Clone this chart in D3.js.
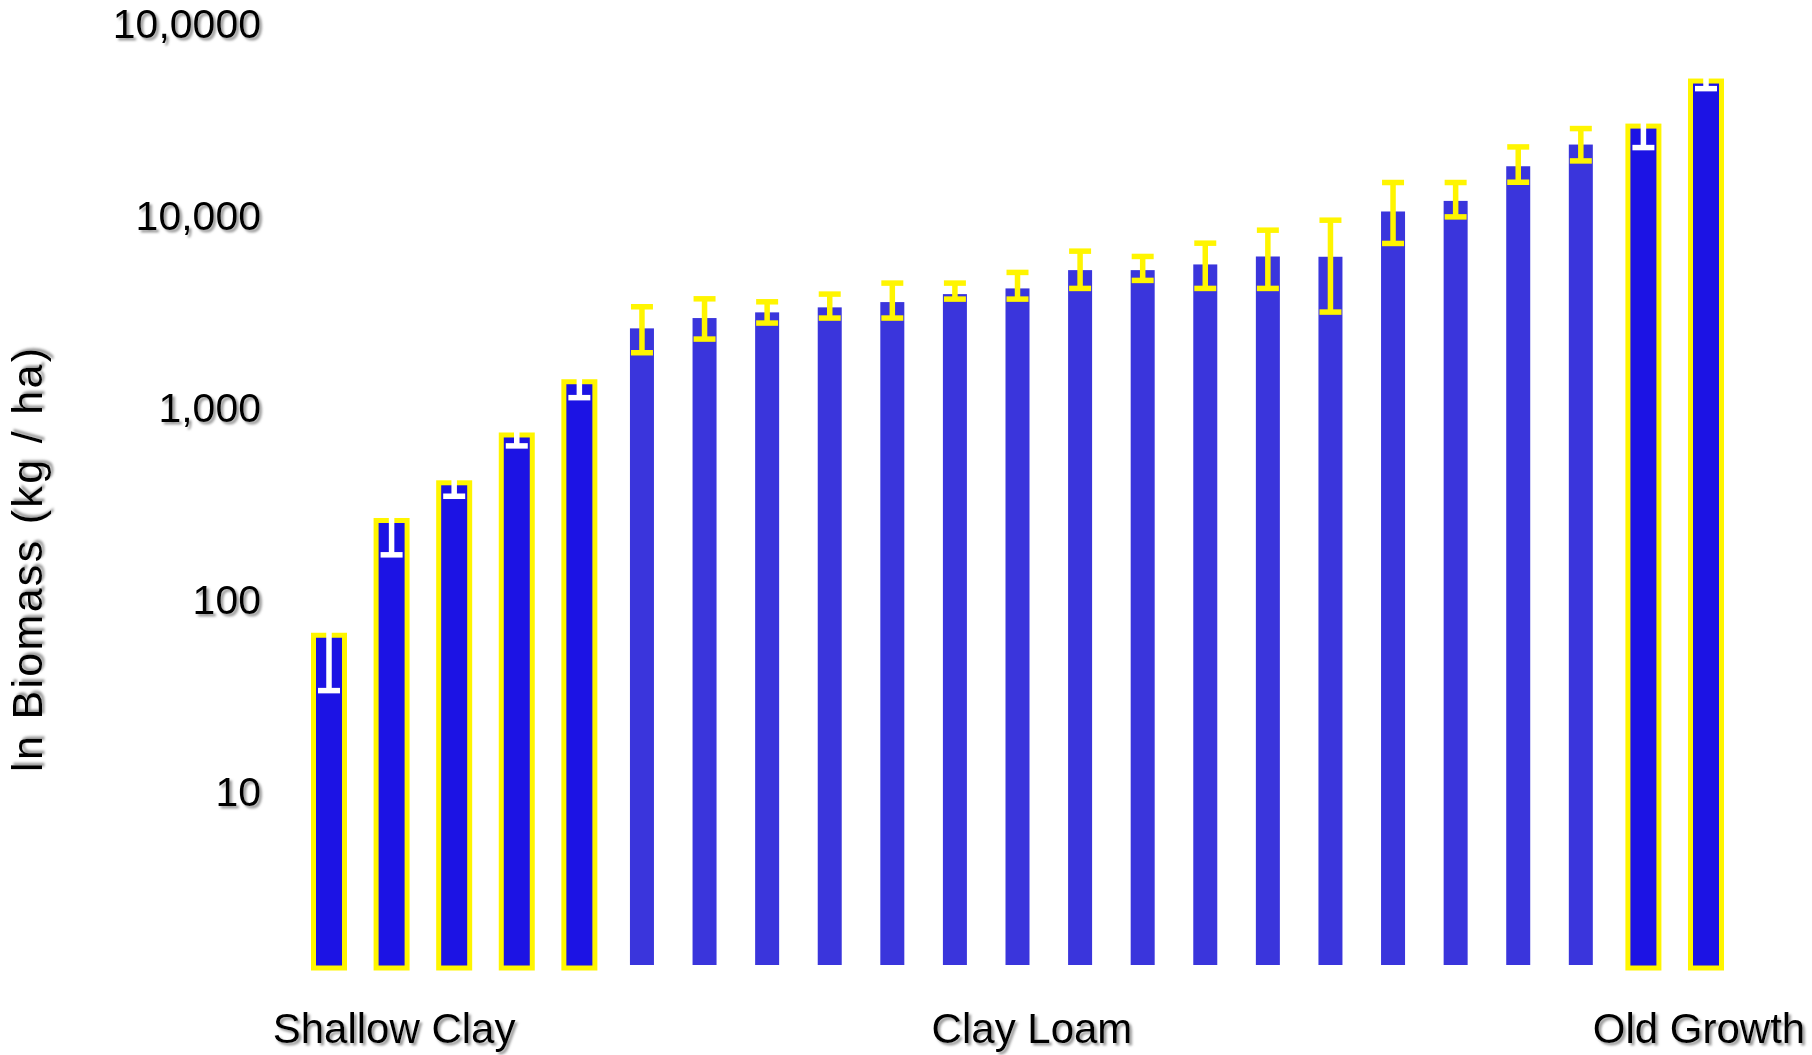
<!DOCTYPE html>
<html>
<head>
<meta charset="utf-8">
<script src="https://cdn.jsdelivr.net/npm/d3@7"></script>
<style>
  html, body { margin: 0; padding: 0; background: #ffffff; }
  svg { display: block; }
</style>
</head>
<body>
<svg id="chart" width="1812" height="1055"></svg>
<script>
// ---------------- DATA ----------------
const sites = ["1","2","3","4","5","6","7","8","9","10","11","12",
               "13","14","15","16","17","18","19","20","21","22","23"];
const soilGroup = ["Shallow Clay","Shallow Clay","Shallow Clay","Shallow Clay","Shallow Clay",
  "Clay Loam","Clay Loam","Clay Loam","Clay Loam","Clay Loam","Clay Loam","Clay Loam","Clay Loam",
  "Clay Loam","Clay Loam","Clay Loam","Clay Loam","Clay Loam","Clay Loam","Clay Loam","Clay Loam",
  "Old Growth","Old Growth"];
const biomass = [66, 261, 410, 727, 1376,
  2608, 2951, 3159, 3354, 3573, 3932, 4209, 5240, 5240, 5610, 6170, 6150,
  10580, 12010, 18190, 23590,
  29430, 50490];
const errLow = [34, 173, 349, 638, 1137,
  1948, 2294, 2779, 2951, 2951, 3703, 3703, 4209, 4633, 4209, 4209, 3170,
  7213, 9918, 15020, 19390,
  22750, 46100];
const errHigh = [98, 349, 471, 816, 1615,
  3378, 3716, 3586, 3932, 4486, 4486, 5098, 6578, 6173, 7238, 8458, 9533,
  14970, 14970, 22930, 28570,
  36110, 54880];
const highlighted = [true, true, true, true, true,
  false, false, false, false, false, false, false, false, false, false, false, false,
  false, false, false, false,
  true, true];
const tickValues = [10, 100, 1000, 10000, 100000];
const tickLabels = ["10", "100", "1,000", "10,000", "10,0000"];
const groupLabels = ["Shallow Clay", "Clay Loam", "Old Growth"];
const yTitle = "ln Biomass (kg / ha)";
const axisFloor = 1.27;

// ---------------- LAYOUT ----------------
const W = 1812, H = 1055;
const FONT = "'Liberation Sans', Arial, Helvetica, sans-serif";
const plainW = 24, hlW = 31, hlStroke = 5, capW = 22, errStroke = 5.5;
const blue = "#3a35dc", blueDark = "#1c13e4", yellow = "#fff500";
// group label anchor: [site index, pixel offset]
const groupAnchor = [[1, 2.5], [11, 14.5], [22, -7]];

const svg = d3.select("#chart");
svg.append("rect").attr("width", W).attr("height", H).attr("fill", "#ffffff");

const defs = svg.append("defs");
const filt = defs.append("filter").attr("id", "shadow")
  .attr("x", "-10%").attr("y", "-30%").attr("width", "125%").attr("height", "170%");
filt.append("feDropShadow").attr("dx", 2.5).attr("dy", 2.5).attr("stdDeviation", 0.9)
  .attr("flood-color", "#7a7a7a").attr("flood-opacity", 0.75);

const x = d3.scalePoint().domain(sites).range([329, 1706]);
const y = d3.scaleLog().domain([axisFloor, 100000]).range([965, 24]);
const base = y(axisFloor);

// bars
svg.append("g").selectAll("rect").data(sites).join("rect")
  .attr("x", (d, i) => x(d) - (highlighted[i] ? hlW : plainW) / 2)
  .attr("y", (d, i) => y(biomass[i]))
  .attr("width", (d, i) => highlighted[i] ? hlW : plainW)
  .attr("height", (d, i) => base - y(biomass[i]) + (highlighted[i] ? 3 : 0))
  .attr("fill", (d, i) => highlighted[i] ? blueDark : blue)
  .attr("stroke", (d, i) => highlighted[i] ? yellow : "none")
  .attr("stroke-width", hlStroke);

// error bars
const eg = svg.append("g").selectAll("g").data(sites).join("g")
  .attr("stroke", (d, i) => highlighted[i] ? "#ffffff" : yellow)
  .attr("stroke-width", errStroke)
  .attr("fill", "none");
eg.append("line")
  .attr("x1", d => x(d)).attr("x2", d => x(d))
  .attr("y1", (d, i) => y(errLow[i])).attr("y2", (d, i) => y(errHigh[i]));
eg.append("line")
  .attr("x1", d => x(d) - capW / 2).attr("x2", d => x(d) + capW / 2)
  .attr("y1", (d, i) => y(errLow[i])).attr("y2", (d, i) => y(errLow[i]));
eg.append("line")
  .attr("x1", d => x(d) - capW / 2).attr("x2", d => x(d) + capW / 2)
  .attr("y1", (d, i) => y(errHigh[i])).attr("y2", (d, i) => y(errHigh[i]));

// y axis (labels only)
const yAxis = d3.axisLeft(y).tickValues(tickValues)
  .tickFormat((d, i) => tickLabels[i]).tickSize(0).tickPadding(9);
const ag = svg.append("g").attr("transform", "translate(270,0)").call(yAxis);
ag.select(".domain").remove();
ag.attr("font-family", FONT).attr("font-size", 41);
ag.selectAll("text").attr("fill", "#000000").attr("filter", "url(#shadow)");

// y title
svg.append("text")
  .attr("transform", "translate(42,560) rotate(-90)")
  .attr("text-anchor", "middle")
  .attr("font-family", FONT).attr("font-size", 43)
  .attr("textLength", 424).attr("lengthAdjust", "spacing")
  .attr("fill", "#000000").attr("filter", "url(#shadow)")
  .text(yTitle);

// group labels
svg.append("g").selectAll("text").data(groupLabels).join("text")
  .attr("x", (d, i) => x(sites[groupAnchor[i][0]]) + groupAnchor[i][1])
  .attr("y", 1043)
  .attr("text-anchor", "middle")
  .attr("font-family", FONT).attr("font-size", 42)
  .attr("fill", "#000000").attr("filter", "url(#shadow)")
  .text(d => d);
</script>
</body>
</html>
